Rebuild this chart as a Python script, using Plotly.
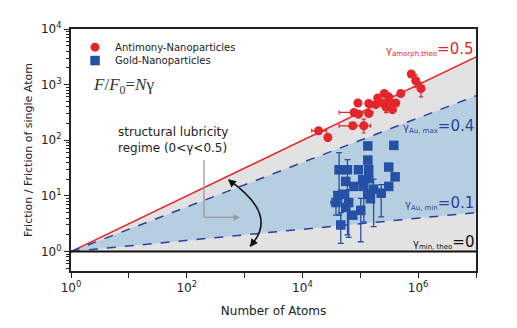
import plotly.graph_objects as go

# ---------------- data ----------------
# Antimony nanoparticles (red)
sb_N = [1.9e4, 2.75e4, 9.1e4, 1.4e5, 7.8e4, 9.3e4, 1.4e5, 7.4e4, 1.15e5,
        2.0e5, 2.6e5, 3.1e5, 2.45e5, 3.4e5, 4.1e5, 2.8e5, 5.0e5, 1.85e5, 3.6e5,
        7.6e5, 9.1e5, 1.12e6]
sb_F = [148, 112, 468, 457, 316, 295, 302, 182, 182,
        575, 692, 603, 468, 468, 468, 389, 692, 437, 355,
        1550, 1175, 851]
sb_N_lo = [1.45e4, 2.75e4, 9.1e4, 1.4e5, 4.3e4, 9.3e4, 1.4e5, 4.3e4, 1.15e5,
           2.0e5, 2.6e5, 3.1e5, 2.45e5, 3.4e5, 4.1e5, 2.8e5, 5.0e5, 1.85e5, 3.6e5,
           7.6e5, 9.1e5, 1.12e6]
sb_N_hi = [2.6e4, 2.75e4, 9.1e4, 1.4e5, 1.65e5, 9.3e4, 1.4e5, 1.5e5, 1.15e5,
           2.0e5, 2.6e5, 3.1e5, 2.45e5, 3.4e5, 4.1e5, 2.8e5, 5.0e5, 1.85e5, 3.6e5,
           7.6e5, 9.1e5, 1.12e6]
sb_F_lo = [148, 95, 468, 457, 316, 295, 302, 182, 135,
           575, 692, 603, 468, 468, 468, 315, 692, 437, 355,
           1550, 900, 600]
sb_F_hi = [148, 130, 468, 457, 316, 295, 302, 182, 240,
           575, 692, 603, 468, 468, 468, 470, 692, 437, 355,
           1550, 1500, 1100]

# Gold nanoparticles (blue)
au_N = [1.35e5, 3.8e5, 1.35e5, 3.1e5, 4.0e5, 3.1e5, 4.3e4, 6.0e4, 9.3e4, 1.4e5,
        5.6e4, 1.1e5, 1.4e5, 7.8e4, 1.15e5, 1.7e5, 2.3e5, 1.35e5, 4.1e4, 5.1e4,
        3.8e4, 6.3e4, 5.6e4, 1.02e5, 7.4e4, 4.6e4, 1.5e5]
au_F = [79, 81, 44, 33, 22, 14.8, 29.5, 29.5, 29.5, 29.5,
        18.2, 19.5, 20.4, 14.8, 14.8, 13.2, 11.2, 10.7, 10, 10.7,
        7.6, 7.6, 6.2, 5.5, 4.5, 3.0, 8.9]
au_F_lo = [79, 81, 44, 33, 22, 14.8, 4.5, 2.0, 29.5, 29.5,
           18.2, 19.5, 20.4, 14.8, 3.4, 2.8, 4.2, 10.7, 10, 10.7,
           4.5, 1.8, 6.2, 1.5, 4.5, 1.4, 8.9]
au_F_hi = [79, 81, 44, 33, 22, 14.8, 60, 45, 29.5, 29.5,
           18.2, 19.5, 20.4, 14.8, 22, 20, 16, 10.7, 10, 10.7,
           12, 13, 6.2, 9, 4.5, 5.0, 8.9]
au_N_lo = [1.35e5, 3.8e5, 1.35e5, 3.1e5, 4.0e5, 3.1e5, 4.3e4, 6.0e4, 9.3e4, 1.4e5,
           5.6e4, 1.1e5, 1.4e5, 7.8e4, 1.15e5, 1.7e5, 2.3e5, 1.35e5, 4.1e4, 5.1e4,
           3.1e4, 6.3e4, 5.6e4, 1.02e5, 7.4e4, 4.6e4, 1.5e5]
au_N_hi = [1.35e5, 3.8e5, 1.35e5, 3.1e5, 4.0e5, 3.1e5, 4.3e4, 6.0e4, 9.3e4, 1.4e5,
           5.6e4, 1.1e5, 1.4e5, 7.8e4, 1.15e5, 1.7e5, 2.3e5, 1.35e5, 4.1e4, 5.1e4,
           4.8e4, 6.3e4, 5.6e4, 1.02e5, 7.4e4, 4.6e4, 1.5e5]

# theoretical exponents and range of N
N_range = [1, 1e7]
gamma_amorph = 0.5
gamma_au_max = 0.4
gamma_au_min = 0.1
gamma_min = 0.0

x_tick_vals = [1, 1e2, 1e4, 1e6]
x_tick_text = ["10<sup>0</sup>", "10<sup>2</sup>", "10<sup>4</sup>", "10<sup>6</sup>"]
x_minor_vals = [1e1, 1e3, 1e5, 1e7]
y_tick_vals = [1, 1e1, 1e2, 1e3, 1e4]
y_tick_text = ["10<sup>0</sup>", "10<sup>1</sup>", "10<sup>2</sup>", "10<sup>3</sup>", "10<sup>4</sup>"]
y_minor_vals = [m * 10 ** d for d in range(-1, 4) for m in range(2, 10)]

# ---------------- styling ----------------
RED = "#e3262b"
BLUE_PT = "#2450a5"
BLUE_LINE = "#2c3f9c"
GRAY_FILL = "#e2e2e2"
BLUE_FILL = "#b6cfe0"
FONT = "DejaVu Sans"

# plot-area geometry (page pixels); the page body adds an 8px offset
PL, PR, PT, PB = 71, 476, 20, 273

def powline(g):
    return [n ** g for n in N_range]

fig = go.Figure()

y_top = powline(gamma_amorph)
y_bot = powline(gamma_min)
fig.add_trace(go.Scatter(x=N_range + N_range[::-1], y=y_top + y_bot[::-1], fill="toself",
                         fillcolor=GRAY_FILL, line=dict(width=0), mode="lines",
                         showlegend=False, hoverinfo="skip"))
y_mx = powline(gamma_au_max)
y_mn = powline(gamma_au_min)
fig.add_trace(go.Scatter(x=N_range + N_range[::-1], y=y_mx + y_mn[::-1], fill="toself",
                         fillcolor=BLUE_FILL, line=dict(width=0), mode="lines",
                         showlegend=False, hoverinfo="skip"))
fig.add_trace(go.Scatter(x=N_range, y=y_top, mode="lines", line=dict(color=RED, width=1.5),
                         showlegend=False))
fig.add_trace(go.Scatter(x=N_range, y=y_mx, mode="lines",
                         line=dict(color=BLUE_LINE, width=1.5, dash="dash"), showlegend=False))
fig.add_trace(go.Scatter(x=N_range, y=y_mn, mode="lines",
                         line=dict(color=BLUE_LINE, width=1.5, dash="dash"), showlegend=False))
fig.add_trace(go.Scatter(x=N_range, y=y_bot, mode="lines", line=dict(color="#111111", width=2),
                         showlegend=False))

fig.add_trace(go.Scatter(
    x=sb_N, y=sb_F, mode="markers", name="Antimony-Nanoparticles", legend="legend",
    marker=dict(color=RED, size=9, symbol="circle"),
    error_x=dict(type="data", symmetric=False,
                 array=[h - v for h, v in zip(sb_N_hi, sb_N)],
                 arrayminus=[v - l for v, l in zip(sb_N, sb_N_lo)],
                 color=RED, thickness=1.2, width=2),
    error_y=dict(type="data", symmetric=False,
                 array=[h - v for h, v in zip(sb_F_hi, sb_F)],
                 arrayminus=[v - l for v, l in zip(sb_F, sb_F_lo)],
                 color=RED, thickness=1.2, width=2)))
fig.add_trace(go.Scatter(
    x=au_N, y=au_F, mode="markers", name="Gold-Nanoparticles", legend="legend2",
    marker=dict(color=BLUE_PT, size=9.5, symbol="square"),
    error_x=dict(type="data", symmetric=False,
                 array=[h - v for h, v in zip(au_N_hi, au_N)],
                 arrayminus=[v - l for v, l in zip(au_N, au_N_lo)],
                 color=BLUE_PT, thickness=1.2, width=2),
    error_y=dict(type="data", symmetric=False,
                 array=[h - v for h, v in zip(au_F_hi, au_F)],
                 arrayminus=[v - l for v, l in zip(au_F, au_F_lo)],
                 color=BLUE_PT, thickness=1.3, width=3)))

px = lambda v: (v - PL) / (PR - PL)
py = lambda v: (PB - v) / (PB - PT)

ann = []
ann.append(dict(x=7, y=3.64, xref="x", yref="y", xanchor="right", yanchor="middle", showarrow=False,
                text='<span style="font-size:10px">γ<sub>amorph,theo</sub></span>=0.5',
                font=dict(family=FONT, size=15, color=RED)))
ann.append(dict(x=7, y=2.26, xref="x", yref="y", xanchor="right", yanchor="middle", showarrow=False,
                text='<span style="font-size:10px">γ<sub>Au, max</sub></span>=0.4',
                font=dict(family=FONT, size=15, color=BLUE_LINE)))
ann.append(dict(x=7, y=0.87, xref="x", yref="y", xanchor="right", yanchor="middle", showarrow=False,
                text='<span style="font-size:10px">γ<sub>Au, min</sub></span>=0.1',
                font=dict(family=FONT, size=15, color=BLUE_LINE)))
ann.append(dict(x=7, y=0.17, xref="x", yref="y", xanchor="right", yanchor="middle", showarrow=False,
                text='<span style="font-size:10px">γ<sub>min, theo</sub></span>=0',
                font=dict(family=FONT, size=15, color="#111111")))
ann.append(dict(x=px(91), y=py(80), xref="paper", yref="paper", xanchor="left", yanchor="middle",
                showarrow=False, text="<i>F</i>/<i>F</i><sub>0</sub>=<i>N</i>γ",
                font=dict(family="Liberation Serif", size=17, color="#333333")))
ann.append(dict(x=px(116), y=py(136), xref="paper", yref="paper", xanchor="left", yanchor="middle",
                showarrow=False, align="left", text="structural lubricity<br>regime (0&lt;γ&lt;0.5)",
                font=dict(family=FONT, size=12, color="#222222")))
ann.append(dict(x=px(240), y=py(217), xref="paper", yref="paper",
                ax=-36, ay=0, showarrow=True, arrowhead=2, arrowsize=1, arrowwidth=1.3,
                arrowcolor="#9a9a9a", text=""))
ann.append(dict(x=px(228), y=py(177), xref="paper", yref="paper",
                ax=7, ay=6, showarrow=True, arrowhead=2, arrowsize=1, arrowwidth=1.6,
                arrowcolor="#111111", text=""))
ann.append(dict(x=px(250), y=py(248), xref="paper", yref="paper",
                ax=5, ay=-7, showarrow=True, arrowhead=2, arrowsize=1, arrowwidth=1.6,
                arrowcolor="#111111", text=""))

shapes = []
shapes.append(dict(type="line", xref="paper", yref="paper", x0=px(204), y0=py(157),
                   x1=px(204), y1=py(217), line=dict(color="#9a9a9a", width=1.3)))
shapes.append(dict(type="line", xref="paper", yref="paper", x0=px(204), y0=py(217),
                   x1=px(236), y1=py(217), line=dict(color="#9a9a9a", width=1.3)))
shapes.append(dict(type="path", xref="paper", yref="paper",
                   path=f"M {px(229):.4f},{py(178):.4f} Q {px(280):.4f},{py(215):.4f} {px(250):.4f},{py(247):.4f}",
                   line=dict(color="#111111", width=1.6)))

legend_common = dict(xanchor="left", yanchor="middle", bgcolor="rgba(0,0,0,0)",
                     font=dict(family=FONT, size=10, color="#222222"), itemwidth=30)

fig.update_layout(
    width=509, height=320,
    margin=dict(l=PL - 8, r=517 - PR, t=PT - 8, b=328 - PB),
    paper_bgcolor="white", plot_bgcolor="white",
    font=dict(family=FONT, size=12, color="#222222"),
    showlegend=True,
    legend=dict(x=0.01, y=py(39), **legend_common),
    legend2=dict(x=0.01, y=py(53), **legend_common),
    annotations=ann, shapes=shapes,
)
fig.update_xaxes(type="log", range=[0, 7], tickvals=x_tick_vals, ticktext=x_tick_text,
                 ticks="outside", ticklen=5, tickwidth=1.2, tickcolor="#222222",
                 minor=dict(tickvals=x_minor_vals, ticks="outside", ticklen=5, tickcolor="#222222"),
                 showline=True, linewidth=2, linecolor="#222222", mirror=True, showgrid=False,
                 zeroline=False, title=dict(text="Number of Atoms", font=dict(size=12), standoff=12),
                 tickfont=dict(size=12))
fig.update_yaxes(type="log", range=[-0.35, 4], tickvals=y_tick_vals, ticktext=y_tick_text,
                 ticks="outside", ticklen=5, tickwidth=1.2, tickcolor="#222222",
                 minor=dict(tickvals=y_minor_vals, ticks="outside", ticklen=3, tickcolor="#222222"),
                 showline=True, linewidth=2, linecolor="#222222", mirror=True, showgrid=False,
                 zeroline=False, title=dict(text="Friction / Friction of single Atom", font=dict(size=11), standoff=6),
                 tickfont=dict(size=12))

fig.write_html("out.html")
